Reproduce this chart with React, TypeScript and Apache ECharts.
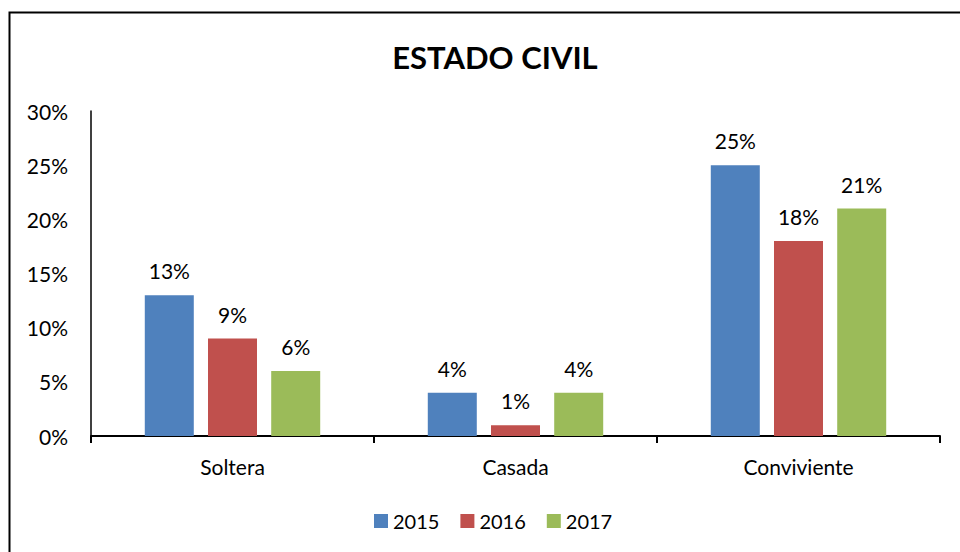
import React, { useEffect, useRef } from "react";
import * as echarts from "echarts";

const categories = ["Soltera", "Casada", "Conviviente"];
const seriesNames = ["2015", "2016", "2017"];
const values2015 = [13, 4, 25];
const values2016 = [9, 1, 18];
const values2017 = [6, 4, 21];
const colors = ["#4F81BD", "#C0504D", "#9BBB59"];
const titleText = "ESTADO CIVIL";

const FONT = "Lato, 'Liberation Sans', sans-serif";

export default function App() {
  const ref = useRef<HTMLDivElement>(null);
  useEffect(() => {
    if (!ref.current) return;
    const chart = echarts.init(ref.current, null, { renderer: "svg" });
    const allValues = [values2015, values2016, values2017];
    chart.setOption({
      animation: false,
      backgroundColor: "#ffffff",
      textStyle: { fontFamily: FONT },
      title: {
        text: titleText,
        left: 490,
        textAlign: "center",
        top: 36,
        textStyle: { fontFamily: FONT, fontSize: 31, fontWeight: "bold", color: "#000" },
      },
      graphic: [
        {
          type: "rect",
          shape: { x: 9.5, y: 12.5, width: 1000, height: 600 },
          style: { fill: "none", stroke: "#000", lineWidth: 2 },
          silent: true,
        },
      ],
      legend: {
        bottom: 21,
        left: 374,
        padding: 0,
        itemWidth: 14,
        itemHeight: 14,
        itemGap: 21,
        icon: "rect",
        textStyle: { fontFamily: FONT, fontSize: 20, color: "#000" },
        data: seriesNames,
      },
      grid: { left: 91, right: 20, top: 111, bottom: 116, containLabel: false },
      xAxis: {
        type: "category",
        data: categories,
        axisLine: { lineStyle: { color: "#000", width: 2 } },
        axisTick: { show: true, length: 7, lineStyle: { color: "#000", width: 2 } },
        axisLabel: { fontFamily: FONT, fontSize: 21, color: "#000", margin: 20 },
      },
      yAxis: {
        type: "value",
        min: 0,
        max: 30,
        interval: 5,
        axisLine: { show: true, lineStyle: { color: "#000", width: 1.5 } },
        axisTick: { show: false },
        splitLine: { show: false },
        axisLabel: { formatter: "{value}%", fontFamily: FONT, fontSize: 21, color: "#000", margin: 23 },
      },
      series: seriesNames.map((name, i) => ({
        name,
        type: "bar",
        data: allValues[i],
        barWidth: 49,
        barGap: "29%",
        itemStyle: { color: colors[i] },
        label: {
          show: true,
          position: "top",
          distance: 14,
          formatter: "{c}%",
          fontFamily: FONT,
          fontSize: 21,
          color: "#000",
        },
      })),
    });
    return () => chart.dispose();
  }, []);
  return (
    <div
      ref={ref}
      style={{ position: "fixed", left: 0, top: 0, width: 960, height: 552, background: "#fff" }}
    />
  );
}
